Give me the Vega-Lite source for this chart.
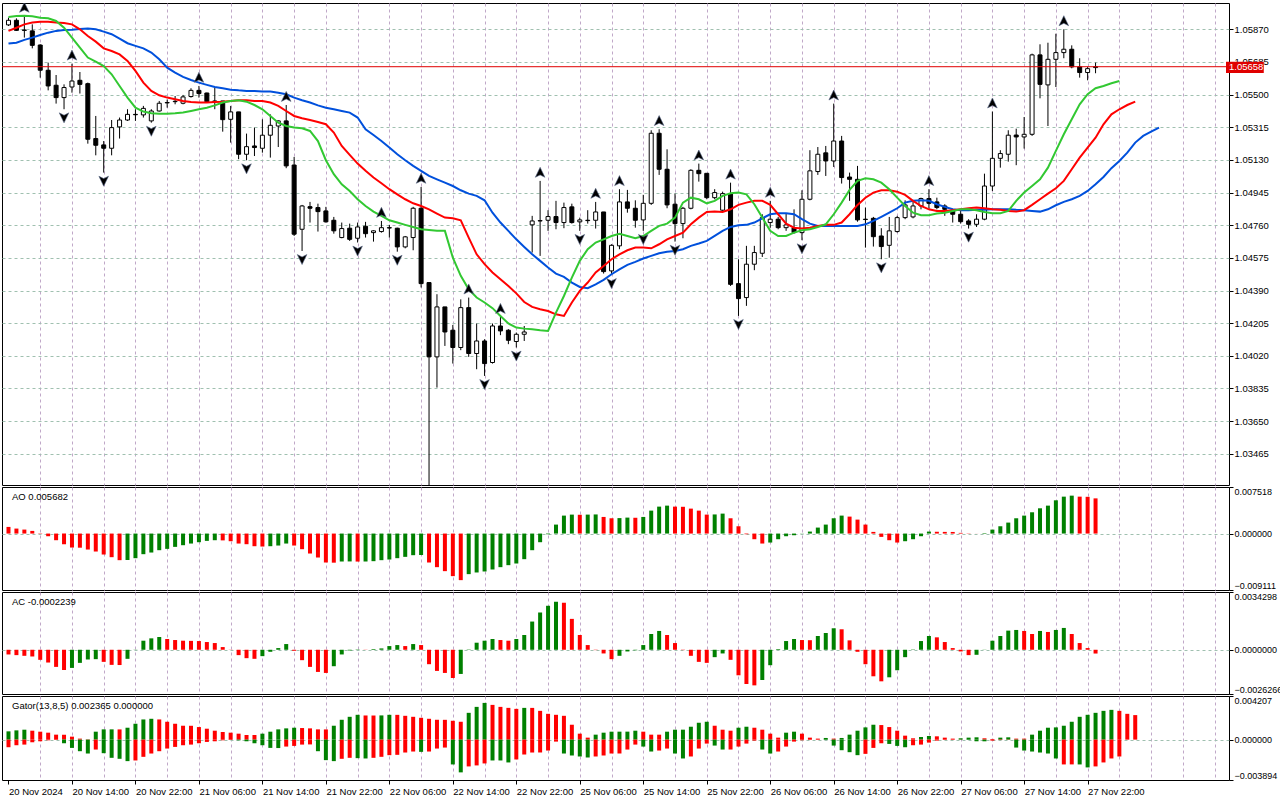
{
"$schema":"https://vega.github.io/schema/vega-lite/v6.json",
"padding":{"left":1,"top":2,"right":0,"bottom":0},
"background":"#ffffff",
"spacing":2,
"bounds":"flush",
"config":{
 "view":{"stroke":"#000000","strokeWidth":1},
 "font":"Liberation Sans",
 "axis":{"labelFont":"Liberation Sans","labelFontSize":9.5,"labelColor":"#000000","tickColor":"#000000","tickSize":4,"domain":false,"labelOverlap":false},
 "axisX":{"gridColor":"#c0a8c8","gridDash":[3,3],"gridWidth":1},
 "axisY":{"gridColor":"#a0c0b0","gridDash":[3,3],"gridWidth":1}
},
"datasets":{
"candles":[
{"i":0,"o":1.05895,"h":1.05936,"l":1.05889,"c":1.05921},
{"i":1,"o":1.05921,"h":1.05932,"l":1.05861,"c":1.05864},
{"i":2,"o":1.05866,"h":1.05946,"l":1.05823,"c":1.05864,"fr":"u"},
{"i":3,"o":1.05861,"h":1.05898,"l":1.05762,"c":1.05779},
{"i":4,"o":1.05781,"h":1.05785,"l":1.05596,"c":1.05638},
{"i":5,"o":1.05638,"h":1.05681,"l":1.05524,"c":1.05549},
{"i":6,"o":1.05553,"h":1.05611,"l":1.05449,"c":1.05483},
{"i":7,"o":1.05483,"h":1.05558,"l":1.05417,"c":1.0554,"fr":"d"},
{"i":8,"o":1.05543,"h":1.05675,"l":1.05511,"c":1.05577,"fr":"u"},
{"i":9,"o":1.05581,"h":1.05628,"l":1.05506,"c":1.05558},
{"i":10,"o":1.05562,"h":1.05568,"l":1.05222,"c":1.05247},
{"i":11,"o":1.05251,"h":1.05379,"l":1.05156,"c":1.05213},
{"i":12,"o":1.05215,"h":1.05237,"l":1.05058,"c":1.05196,"fr":"d"},
{"i":13,"o":1.05196,"h":1.05356,"l":1.05156,"c":1.05313},
{"i":14,"o":1.05317,"h":1.0537,"l":1.05251,"c":1.05356},
{"i":15,"o":1.05356,"h":1.05417,"l":1.05351,"c":1.05388},
{"i":16,"o":1.05388,"h":1.05417,"l":1.05351,"c":1.05386},
{"i":17,"o":1.05385,"h":1.05436,"l":1.0537,"c":1.05422},
{"i":18,"o":1.05351,"h":1.05417,"l":1.05341,"c":1.05407,"fr":"d"},
{"i":19,"o":1.05407,"h":1.05464,"l":1.05404,"c":1.05451},
{"i":20,"o":1.05455,"h":1.05472,"l":1.05426,"c":1.05453},
{"i":21,"o":1.0546,"h":1.05492,"l":1.05445,"c":1.05462},
{"i":22,"o":1.05451,"h":1.05498,"l":1.05445,"c":1.05487},
{"i":23,"o":1.05489,"h":1.05536,"l":1.05483,"c":1.05524},
{"i":24,"o":1.05524,"h":1.05549,"l":1.05483,"c":1.05506,"fr":"u"},
{"i":25,"o":1.05509,"h":1.05511,"l":1.05455,"c":1.0546},
{"i":26,"o":1.05464,"h":1.0554,"l":1.05417,"c":1.0546},
{"i":27,"o":1.05464,"h":1.05464,"l":1.0529,"c":1.05358},
{"i":28,"o":1.0536,"h":1.05436,"l":1.05228,"c":1.05402},
{"i":29,"o":1.05402,"h":1.05402,"l":1.05134,"c":1.05162},
{"i":30,"o":1.05162,"h":1.05279,"l":1.05128,"c":1.05205,"fr":"d"},
{"i":31,"o":1.05209,"h":1.05313,"l":1.05152,"c":1.052},
{"i":32,"o":1.05196,"h":1.0536,"l":1.05171,"c":1.0527},
{"i":33,"o":1.0527,"h":1.05388,"l":1.05143,"c":1.05326},
{"i":34,"o":1.05322,"h":1.05354,"l":1.05203,"c":1.05351},
{"i":35,"o":1.05351,"h":1.05441,"l":1.05083,"c":1.05096,"fr":"u"},
{"i":36,"o":1.05101,"h":1.05147,"l":1.04699,"c":1.04709},
{"i":37,"o":1.04737,"h":1.04875,"l":1.04614,"c":1.04869,"fr":"d"},
{"i":38,"o":1.04865,"h":1.04892,"l":1.04775,"c":1.04856},
{"i":39,"o":1.0486,"h":1.04882,"l":1.04724,"c":1.04837},
{"i":40,"o":1.04841,"h":1.04864,"l":1.04775,"c":1.04779},
{"i":41,"o":1.04788,"h":1.04807,"l":1.04712,"c":1.04728},
{"i":42,"o":1.0469,"h":1.04775,"l":1.04686,"c":1.04741},
{"i":43,"o":1.04743,"h":1.04769,"l":1.04671,"c":1.0468},
{"i":44,"o":1.04686,"h":1.04775,"l":1.04662,"c":1.0475,"fr":"d"},
{"i":45,"o":1.04754,"h":1.04779,"l":1.0469,"c":1.04712},
{"i":46,"o":1.04718,"h":1.04731,"l":1.04667,"c":1.04728},
{"i":47,"o":1.04724,"h":1.04784,"l":1.04718,"c":1.04746,"fr":"u"},
{"i":48,"o":1.04746,"h":1.04762,"l":1.0469,"c":1.04744},
{"i":49,"o":1.04743,"h":1.04746,"l":1.0461,"c":1.04637,"fr":"d"},
{"i":50,"o":1.04637,"h":1.04699,"l":1.04629,"c":1.04694},
{"i":51,"o":1.0469,"h":1.04864,"l":1.04618,"c":1.04856},
{"i":52,"o":1.04856,"h":1.04977,"l":1.04407,"c":1.04429,"fr":"u"},
{"i":53,"o":1.04435,"h":1.04435,"l":1.03275,"c":1.04014,"fr":"d"},
{"i":54,"o":1.04014,"h":1.04369,"l":1.0384,"c":1.04297},
{"i":55,"o":1.04297,"h":1.04297,"l":1.04076,"c":1.04155},
{"i":56,"o":1.04165,"h":1.04195,"l":1.03976,"c":1.04067},
{"i":57,"o":1.04067,"h":1.0434,"l":1.04052,"c":1.04293},
{"i":58,"o":1.04293,"h":1.0435,"l":1.04014,"c":1.04033,"fr":"u"},
{"i":59,"o":1.04033,"h":1.04203,"l":1.03944,"c":1.04104},
{"i":60,"o":1.04104,"h":1.04114,"l":1.03906,"c":1.03976,"fr":"d"},
{"i":61,"o":1.03982,"h":1.04203,"l":1.03976,"c":1.04189},
{"i":62,"o":1.04189,"h":1.0424,"l":1.04137,"c":1.04161,"fr":"u"},
{"i":63,"o":1.04165,"h":1.04171,"l":1.04086,"c":1.04108},
{"i":64,"o":1.04101,"h":1.04152,"l":1.04067,"c":1.04142,"fr":"d"},
{"i":65,"o":1.04142,"h":1.04189,"l":1.04104,"c":1.04155},
{"i":66,"o":1.04762,"h":1.04813,"l":1.04605,"c":1.04784},
{"i":67,"o":1.04784,"h":1.05011,"l":1.04586,"c":1.04786,"fr":"u"},
{"i":68,"o":1.04788,"h":1.04845,"l":1.04728,"c":1.04809},
{"i":69,"o":1.04809,"h":1.04898,"l":1.04737,"c":1.04775},
{"i":70,"o":1.04775,"h":1.04888,"l":1.04743,"c":1.0486},
{"i":71,"o":1.04864,"h":1.04882,"l":1.04769,"c":1.04775},
{"i":72,"o":1.04779,"h":1.04803,"l":1.04728,"c":1.0479,"fr":"d"},
{"i":73,"o":1.04788,"h":1.04845,"l":1.04769,"c":1.04786},
{"i":74,"o":1.04788,"h":1.04892,"l":1.04741,"c":1.04835,"fr":"u"},
{"i":75,"o":1.04835,"h":1.04835,"l":1.04486,"c":1.04497},
{"i":76,"o":1.04501,"h":1.04652,"l":1.04478,"c":1.04646,"fr":"d"},
{"i":77,"o":1.04643,"h":1.04964,"l":1.04624,"c":1.04892,"fr":"u"},
{"i":78,"o":1.04892,"h":1.0496,"l":1.04831,"c":1.04856},
{"i":79,"o":1.04856,"h":1.04901,"l":1.04746,"c":1.04788},
{"i":80,"o":1.0479,"h":1.04932,"l":1.04728,"c":1.04884,"fr":"d"},
{"i":81,"o":1.04884,"h":1.05298,"l":1.04875,"c":1.05281},
{"i":82,"o":1.05281,"h":1.05304,"l":1.05045,"c":1.05077,"fr":"u"},
{"i":83,"o":1.05077,"h":1.0519,"l":1.04856,"c":1.04875},
{"i":84,"o":1.04879,"h":1.04939,"l":1.04667,"c":1.04769,"fr":"d"},
{"i":85,"o":1.04769,"h":1.04864,"l":1.04686,"c":1.04856},
{"i":86,"o":1.04856,"h":1.05077,"l":1.0485,"c":1.05071},
{"i":87,"o":1.05071,"h":1.05109,"l":1.05007,"c":1.05052,"fr":"u"},
{"i":88,"o":1.05054,"h":1.05054,"l":1.04907,"c":1.04916},
{"i":89,"o":1.04916,"h":1.04964,"l":1.04907,"c":1.04945},
{"i":90,"o":1.04845,"h":1.0495,"l":1.04837,"c":1.04939},
{"i":91,"o":1.04939,"h":1.05001,"l":1.04416,"c":1.04425,"fr":"u"},
{"i":92,"o":1.04429,"h":1.04567,"l":1.04246,"c":1.04344,"fr":"d"},
{"i":93,"o":1.0435,"h":1.04643,"l":1.04303,"c":1.04539},
{"i":94,"o":1.04539,"h":1.04643,"l":1.04505,"c":1.04605},
{"i":95,"o":1.04601,"h":1.04822,"l":1.0458,"c":1.04803},
{"i":96,"o":1.04775,"h":1.04898,"l":1.04746,"c":1.04794,"fr":"u"},
{"i":97,"o":1.04794,"h":1.04807,"l":1.04737,"c":1.04746},
{"i":98,"o":1.04746,"h":1.04826,"l":1.04728,"c":1.04762},
{"i":99,"o":1.04746,"h":1.0485,"l":1.04712,"c":1.04718},
{"i":100,"o":1.04718,"h":1.04958,"l":1.04675,"c":1.04907,"fr":"d"},
{"i":101,"o":1.04907,"h":1.05185,"l":1.04901,"c":1.05068},
{"i":102,"o":1.05064,"h":1.05203,"l":1.05045,"c":1.05162},
{"i":103,"o":1.0517,"h":1.05209,"l":1.05039,"c":1.05124},
{"i":104,"o":1.05124,"h":1.05449,"l":1.0509,"c":1.05237,"fr":"u"},
{"i":105,"o":1.05237,"h":1.05266,"l":1.04996,"c":1.0503},
{"i":106,"o":1.05033,"h":1.05058,"l":1.04898,"c":1.0502},
{"i":107,"o":1.0502,"h":1.05096,"l":1.0478,"c":1.0479},
{"i":108,"o":1.04794,"h":1.0486,"l":1.04633,"c":1.04792},
{"i":109,"o":1.04799,"h":1.04807,"l":1.04639,"c":1.04695},
{"i":110,"o":1.04699,"h":1.04743,"l":1.04567,"c":1.04639,"fr":"d"},
{"i":111,"o":1.04646,"h":1.04807,"l":1.04576,"c":1.04728},
{"i":112,"o":1.04724,"h":1.04813,"l":1.04718,"c":1.04803},
{"i":113,"o":1.04803,"h":1.04901,"l":1.04794,"c":1.04875},
{"i":114,"o":1.04807,"h":1.04898,"l":1.04799,"c":1.04869},
{"i":115,"o":1.04869,"h":1.04916,"l":1.0485,"c":1.04911},
{"i":116,"o":1.04911,"h":1.04964,"l":1.04856,"c":1.04884,"fr":"u"},
{"i":117,"o":1.04892,"h":1.04916,"l":1.0485,"c":1.0486},
{"i":118,"o":1.04869,"h":1.04879,"l":1.04813,"c":1.0485},
{"i":119,"o":1.04841,"h":1.0485,"l":1.04775,"c":1.04822},
{"i":120,"o":1.04822,"h":1.04845,"l":1.04769,"c":1.0478},
{"i":121,"o":1.04784,"h":1.04794,"l":1.04741,"c":1.04765,"fr":"d"},
{"i":122,"o":1.04765,"h":1.04822,"l":1.0475,"c":1.04794},
{"i":123,"o":1.04794,"h":1.05052,"l":1.04788,"c":1.04982},
{"i":124,"o":1.04982,"h":1.05404,"l":1.04954,"c":1.05139,"fr":"u"},
{"i":125,"o":1.05139,"h":1.05185,"l":1.05086,"c":1.05166},
{"i":126,"o":1.05162,"h":1.05298,"l":1.0512,"c":1.0527},
{"i":127,"o":1.05271,"h":1.05307,"l":1.051,"c":1.0526},
{"i":128,"o":1.0526,"h":1.05373,"l":1.05194,"c":1.05275},
{"i":129,"o":1.05275,"h":1.05732,"l":1.05266,"c":1.05725},
{"i":130,"o":1.05725,"h":1.05785,"l":1.05479,"c":1.05558},
{"i":131,"o":1.05555,"h":1.05794,"l":1.05322,"c":1.057},
{"i":132,"o":1.057,"h":1.05845,"l":1.05543,"c":1.05738},
{"i":133,"o":1.05738,"h":1.0587,"l":1.05706,"c":1.05757,"fr":"u"},
{"i":134,"o":1.05757,"h":1.05779,"l":1.05649,"c":1.05657},
{"i":135,"o":1.05657,"h":1.05706,"l":1.05596,"c":1.05625},
{"i":136,"o":1.05625,"h":1.05657,"l":1.05581,"c":1.05647},
{"i":137,"o":1.05653,"h":1.05681,"l":1.05621,"c":1.05658}
],
"alligator":[
{"i":0,"j":1.05789,"t":1.05861,"l":1.0594},{"i":1,"j":1.05794,"t":1.05879,"l":1.05946},{"i":2,"j":1.0581,"t":1.05898,"l":1.05947},{"i":3,"j":1.05823,"t":1.05908,"l":1.05944},{"i":4,"j":1.05838,"t":1.05913,"l":1.05936},{"i":5,"j":1.05851,"t":1.05913,"l":1.05932},{"i":6,"j":1.05861,"t":1.05908,"l":1.05917},{"i":7,"j":1.05866,"t":1.05906,"l":1.05879},{"i":8,"j":1.05868,"t":1.05898,"l":1.05823},{"i":9,"j":1.05872,"t":1.0587,"l":1.05766},
{"i":10,"j":1.05874,"t":1.05832,"l":1.0571},{"i":11,"j":1.0587,"t":1.058,"l":1.05687},{"i":12,"j":1.05857,"t":1.05762,"l":1.05662},{"i":13,"j":1.05842,"t":1.05747,"l":1.05615},{"i":14,"j":1.05817,"t":1.05728,"l":1.05549},{"i":15,"j":1.05791,"t":1.05691,"l":1.05483},{"i":16,"j":1.05776,"t":1.05634,"l":1.05426},{"i":17,"j":1.05762,"t":1.05568,"l":1.05404},{"i":18,"j":1.05738,"t":1.05521,"l":1.05394},{"i":19,"j":1.057,"t":1.05496,"l":1.05392},
{"i":20,"j":1.05653,"t":1.05483,"l":1.05392},{"i":21,"j":1.05625,"t":1.05474,"l":1.05394},{"i":22,"j":1.056,"t":1.05464,"l":1.05398},{"i":23,"j":1.05583,"t":1.05458,"l":1.05407},{"i":24,"j":1.05568,"t":1.05455,"l":1.05417},{"i":25,"j":1.05555,"t":1.05455,"l":1.05426},{"i":26,"j":1.05543,"t":1.05458,"l":1.05439},{"i":27,"j":1.05536,"t":1.0546,"l":1.05455},{"i":28,"j":1.05528,"t":1.05464,"l":1.05464},{"i":29,"j":1.05524,"t":1.05468,"l":1.05468},
{"i":30,"j":1.05521,"t":1.05468,"l":1.0546},{"i":31,"j":1.05521,"t":1.05464,"l":1.05441},{"i":32,"j":1.05517,"t":1.05464,"l":1.05417},{"i":33,"j":1.05517,"t":1.05455,"l":1.05379},{"i":34,"j":1.05511,"t":1.05436,"l":1.05341},{"i":35,"j":1.05502,"t":1.05407,"l":1.05322},{"i":36,"j":1.05483,"t":1.05379,"l":1.05313},{"i":37,"j":1.05468,"t":1.05366,"l":1.05309},{"i":38,"j":1.05455,"t":1.05356,"l":1.05294},{"i":39,"j":1.05439,"t":1.05345,"l":1.05237},
{"i":40,"j":1.05426,"t":1.05332,"l":1.05128},{"i":41,"j":1.05417,"t":1.05285,"l":1.05049},{"i":42,"j":1.05407,"t":1.05209,"l":1.04992},{"i":43,"j":1.05398,"t":1.05158,"l":1.04954},{"i":44,"j":1.0537,"t":1.05109,"l":1.04907},{"i":45,"j":1.05304,"t":1.05068,"l":1.04869},{"i":46,"j":1.05271,"t":1.0503,"l":1.04837},{"i":47,"j":1.05237,"t":1.04998,"l":1.04813},{"i":48,"j":1.052,"t":1.04964,"l":1.04788},{"i":49,"j":1.05162,"t":1.04935,"l":1.04775},
{"i":50,"j":1.05128,"t":1.04907,"l":1.04762},{"i":51,"j":1.05096,"t":1.04884,"l":1.0475},{"i":52,"j":1.05068,"t":1.04869,"l":1.04737},{"i":53,"j":1.05039,"t":1.0485,"l":1.04733},{"i":54,"j":1.0502,"t":1.04826,"l":1.04728},{"i":55,"j":1.05001,"t":1.04803,"l":1.04728},{"i":56,"j":1.04982,"t":1.04799,"l":1.04576},{"i":57,"j":1.04958,"t":1.04788,"l":1.04473},{"i":58,"j":1.04939,"t":1.0469,"l":1.04397},{"i":59,"j":1.04926,"t":1.04595,"l":1.0435},
{"i":60,"j":1.04901,"t":1.04539,"l":1.04322},{"i":61,"j":1.04831,"t":1.04492,"l":1.0429},{"i":62,"j":1.04775,"t":1.04454,"l":1.04246},{"i":63,"j":1.04728,"t":1.04416,"l":1.04203},{"i":64,"j":1.0468,"t":1.04374,"l":1.0418},{"i":65,"j":1.04637,"t":1.04325,"l":1.04174},{"i":66,"j":1.04595,"t":1.04297,"l":1.04171},{"i":67,"j":1.04558,"t":1.04284,"l":1.04165},{"i":68,"j":1.0452,"t":1.04274,"l":1.04161},{"i":69,"j":1.04486,"t":1.04255,"l":1.04265},
{"i":70,"j":1.04467,"t":1.04246,"l":1.04359},{"i":71,"j":1.04435,"t":1.04322,"l":1.04463},{"i":72,"j":1.0441,"t":1.04388,"l":1.04558},{"i":73,"j":1.04403,"t":1.04435,"l":1.04624},{"i":74,"j":1.04425,"t":1.04492,"l":1.04662},{"i":75,"j":1.0445,"t":1.04529,"l":1.0468},{"i":76,"j":1.04482,"t":1.04567,"l":1.04699},{"i":77,"j":1.0451,"t":1.04595,"l":1.04712},{"i":78,"j":1.04535,"t":1.04618,"l":1.04699},{"i":79,"j":1.04552,"t":1.04633,"l":1.04686},
{"i":80,"j":1.04571,"t":1.04633,"l":1.04699},{"i":81,"j":1.04586,"t":1.04629,"l":1.04728},{"i":82,"j":1.04601,"t":1.04652,"l":1.04756},{"i":83,"j":1.04609,"t":1.0468,"l":1.04769},{"i":84,"j":1.04614,"t":1.04699,"l":1.04803},{"i":85,"j":1.04624,"t":1.04718,"l":1.04888},{"i":86,"j":1.04643,"t":1.04765,"l":1.04916},{"i":87,"j":1.04656,"t":1.04803,"l":1.04907},{"i":88,"j":1.04671,"t":1.04835,"l":1.04884},{"i":89,"j":1.04699,"t":1.04837,"l":1.04898},
{"i":90,"j":1.04728,"t":1.04835,"l":1.04926},{"i":91,"j":1.0475,"t":1.0485,"l":1.04941},{"i":92,"j":1.0476,"t":1.04875,"l":1.04945},{"i":93,"j":1.04762,"t":1.04888,"l":1.04935},{"i":94,"j":1.04775,"t":1.04898,"l":1.04879},{"i":95,"j":1.04799,"t":1.04898,"l":1.04803},{"i":96,"j":1.04822,"t":1.04875,"l":1.04728},{"i":97,"j":1.04828,"t":1.04822,"l":1.04699},{"i":98,"j":1.04828,"t":1.04769,"l":1.04699},{"i":99,"j":1.04822,"t":1.04746,"l":1.04718},
{"i":100,"j":1.04794,"t":1.04741,"l":1.04731},{"i":101,"j":1.04769,"t":1.04746,"l":1.04737},{"i":102,"j":1.04756,"t":1.04756,"l":1.0475},{"i":103,"j":1.04756,"t":1.04762,"l":1.04765},{"i":104,"j":1.04756,"t":1.04762,"l":1.04822},{"i":105,"j":1.04756,"t":1.04775,"l":1.04888},{"i":106,"j":1.04756,"t":1.04822,"l":1.0496},{"i":107,"j":1.04756,"t":1.04875,"l":1.05011},{"i":108,"j":1.04765,"t":1.04916,"l":1.05026},{"i":109,"j":1.04784,"t":1.04945,"l":1.0502},
{"i":110,"j":1.04807,"t":1.04958,"l":1.05001},{"i":111,"j":1.04831,"t":1.04958,"l":1.04964},{"i":112,"j":1.04856,"t":1.0495,"l":1.04916},{"i":113,"j":1.04888,"t":1.04932,"l":1.04869},{"i":114,"j":1.04898,"t":1.04898,"l":1.04831},{"i":115,"j":1.04901,"t":1.04869,"l":1.04816},{"i":116,"j":1.04898,"t":1.0485,"l":1.04816},{"i":117,"j":1.04879,"t":1.04841,"l":1.04826},{"i":118,"j":1.04864,"t":1.04841,"l":1.04831},{"i":119,"j":1.0485,"t":1.04845,"l":1.04841},
{"i":120,"j":1.04845,"t":1.0485,"l":1.0485},{"i":121,"j":1.04845,"t":1.04856,"l":1.0485},{"i":122,"j":1.04847,"t":1.0486,"l":1.04845},{"i":123,"j":1.04848,"t":1.04856,"l":1.04835},{"i":124,"j":1.0485,"t":1.0485,"l":1.04828},{"i":125,"j":1.0485,"t":1.04847,"l":1.04828},{"i":126,"j":1.0485,"t":1.04841,"l":1.04841},{"i":127,"j":1.04847,"t":1.04837,"l":1.04898},{"i":128,"j":1.04845,"t":1.04845,"l":1.04945},{"i":129,"j":1.04841,"t":1.04875,"l":1.04982},
{"i":130,"j":1.04837,"t":1.04907,"l":1.0502},{"i":131,"j":1.0485,"t":1.04939,"l":1.05086},{"i":132,"j":1.04873,"t":1.04969,"l":1.05181},{"i":133,"j":1.04892,"t":1.05011,"l":1.05275},{"i":134,"j":1.04907,"t":1.05077,"l":1.0536},{"i":135,"j":1.04926,"t":1.05143,"l":1.05445},{"i":136,"j":1.04954,"t":1.052,"l":1.05502},{"i":137,"j":1.04992,"t":1.05256,"l":1.05536},{"i":138,"j":1.05033,"t":1.05332,"l":1.05549},{"i":139,"j":1.05083,"t":1.05388,"l":1.05564},
{"i":140,"j":1.05124,"t":1.05417,"l":1.05577},{"i":141,"j":1.05171,"t":1.05441},{"i":142,"j":1.05228,"t":1.0546},{"i":143,"j":1.05266},{"i":144,"j":1.0529},{"i":145,"j":1.05313}
],
"ao":[
{"i":0,"v":0.001074,"k":"r"},{"i":1,"v":0.000806,"k":"r"},{"i":2,"v":0.000644,"k":"r"},{"i":3,"v":0.00043,"k":"r"},{"i":4,"v":-0.000054,"k":"r"},{"i":5,"v":-0.00043,"k":"r"},{"i":6,"v":-0.001074,"k":"r"},{"i":7,"v":-0.001718,"k":"r"},{"i":8,"v":-0.002255,"k":"r"},{"i":9,"v":-0.002282,"k":"r"},
{"i":10,"v":-0.002578,"k":"r"},{"i":11,"v":-0.0029,"k":"r"},{"i":12,"v":-0.003383,"k":"r"},{"i":13,"v":-0.003813,"k":"r"},{"i":14,"v":-0.004296,"k":"r"},{"i":15,"v":-0.004269,"k":"g"},{"i":16,"v":-0.003974,"k":"g"},{"i":17,"v":-0.003329,"k":"g"},{"i":18,"v":-0.003061,"k":"g"},{"i":19,"v":-0.002685,"k":"g"},
{"i":20,"v":-0.00247,"k":"g"},{"i":21,"v":-0.002148,"k":"g"},{"i":22,"v":-0.00188,"k":"g"},{"i":23,"v":-0.001611,"k":"g"},{"i":24,"v":-0.001396,"k":"g"},{"i":25,"v":-0.001181,"k":"g"},{"i":26,"v":-0.001074,"k":"g"},{"i":27,"v":-0.001101,"k":"r"},{"i":28,"v":-0.001235,"k":"r"},{"i":29,"v":-0.001611,"k":"r"},
{"i":30,"v":-0.001718,"k":"r"},{"i":31,"v":-0.002041,"k":"r"},{"i":32,"v":-0.002094,"k":"r"},{"i":33,"v":-0.002041,"k":"g"},{"i":34,"v":-0.001933,"k":"g"},{"i":35,"v":-0.001611,"k":"g"},{"i":36,"v":-0.001933,"k":"r"},{"i":37,"v":-0.002524,"k":"r"},{"i":38,"v":-0.003222,"k":"r"},{"i":39,"v":-0.003866,"k":"r"},
{"i":40,"v":-0.004672,"k":"r"},{"i":41,"v":-0.004699,"k":"r"},{"i":42,"v":-0.004511,"k":"g"},{"i":43,"v":-0.0045,"k":"g"},{"i":44,"v":-0.004522,"k":"r"},{"i":45,"v":-0.004511,"k":"g"},{"i":46,"v":-0.004457,"k":"g"},{"i":47,"v":-0.004296,"k":"g"},{"i":48,"v":-0.004189,"k":"g"},{"i":49,"v":-0.003974,"k":"g"},
{"i":50,"v":-0.003759,"k":"g"},{"i":51,"v":-0.003491,"k":"g"},{"i":52,"v":-0.003464,"k":"g"},{"i":53,"v":-0.004672,"k":"r"},{"i":54,"v":-0.005424,"k":"r"},{"i":55,"v":-0.006068,"k":"r"},{"i":56,"v":-0.006874,"k":"r"},{"i":57,"v":-0.007518,"k":"r"},{"i":58,"v":-0.006551,"k":"g"},{"i":59,"v":-0.006283,"k":"g"},
{"i":60,"v":-0.006122,"k":"g"},{"i":61,"v":-0.0058,"k":"g"},{"i":62,"v":-0.005424,"k":"g"},{"i":63,"v":-0.005102,"k":"g"},{"i":64,"v":-0.004833,"k":"g"},{"i":65,"v":-0.004135,"k":"g"},{"i":66,"v":-0.002685,"k":"g"},{"i":67,"v":-0.001396,"k":"g"},{"i":68,"v":-0.000107,"k":"g"},{"i":69,"v":0.00145,"k":"g"},
{"i":70,"v":0.0029,"k":"g"},{"i":71,"v":0.003061,"k":"g"},{"i":72,"v":0.003034,"k":"r"},{"i":73,"v":0.003061,"k":"g"},{"i":74,"v":0.003088,"k":"g"},{"i":75,"v":0.002685,"k":"r"},{"i":76,"v":0.00247,"k":"r"},{"i":77,"v":0.002497,"k":"g"},{"i":78,"v":0.002578,"k":"g"},{"i":79,"v":0.002551,"k":"r"},
{"i":80,"v":0.002685,"k":"g"},{"i":81,"v":0.003705,"k":"g"},{"i":82,"v":0.00435,"k":"g"},{"i":83,"v":0.004511,"k":"g"},{"i":84,"v":0.00435,"k":"r"},{"i":85,"v":0.004323,"k":"r"},{"i":86,"v":0.004028,"k":"r"},{"i":87,"v":0.003705,"k":"r"},{"i":88,"v":0.003061,"k":"r"},{"i":89,"v":0.003088,"k":"g"},
{"i":90,"v":0.003222,"k":"g"},{"i":91,"v":0.00247,"k":"r"},{"i":92,"v":0.001181,"k":"r"},{"i":93,"v":-0.000107,"k":"r"},{"i":94,"v":-0.000913,"k":"r"},{"i":95,"v":-0.001611,"k":"r"},{"i":96,"v":-0.00145,"k":"g"},{"i":97,"v":-0.000913,"k":"g"},{"i":98,"v":-0.00043,"k":"g"},{"i":99,"v":-0.000269,"k":"g"},
{"i":100,"v":-0.000027,"k":"g"},{"i":101,"v":0.000322,"k":"g"},{"i":102,"v":0.000967,"k":"g"},{"i":103,"v":0.00145,"k":"g"},{"i":104,"v":0.00247,"k":"g"},{"i":105,"v":0.0029,"k":"g"},{"i":106,"v":0.002739,"k":"r"},{"i":107,"v":0.002255,"k":"r"},{"i":108,"v":0.00145,"k":"r"},{"i":109,"v":0.000269,"k":"r"},
{"i":110,"v":-0.000537,"k":"r"},{"i":111,"v":-0.001074,"k":"r"},{"i":112,"v":-0.00145,"k":"r"},{"i":113,"v":-0.001235,"k":"g"},{"i":114,"v":-0.000913,"k":"g"},{"i":115,"v":-0.00043,"k":"g"},{"i":116,"v":0.00032,"k":"g"},{"i":117,"v":0.00029,"k":"r"},{"i":118,"v":0.00027,"k":"r"},{"i":119,"v":0.00026,"k":"r"},
{"i":120,"v":0.00011,"k":"r"},{"i":121,"v":0.00004,"k":"r"},{"i":122,"v":0.00001,"k":"r"},{"i":123,"v":0.00008,"k":"g"},{"i":124,"v":0.00064,"k":"g"},{"i":125,"v":0.001181,"k":"g"},{"i":126,"v":0.001772,"k":"g"},{"i":127,"v":0.00247,"k":"g"},{"i":128,"v":0.0029,"k":"g"},{"i":129,"v":0.003437,"k":"g"},
{"i":130,"v":0.004081,"k":"g"},{"i":131,"v":0.004511,"k":"g"},{"i":132,"v":0.00537,"k":"g"},{"i":133,"v":0.005961,"k":"g"},{"i":134,"v":0.006122,"k":"g"},{"i":135,"v":0.005961,"k":"r"},{"i":136,"v":0.005934,"k":"r"},{"i":137,"v":0.005682,"k":"r"}
],
"ac":[
{"i":0,"v":-0.000279,"k":"r"},{"i":1,"v":-0.000319,"k":"r"},{"i":2,"v":-0.000359,"k":"r"},{"i":3,"v":-0.000399,"k":"r"},{"i":4,"v":-0.000598,"k":"r"},{"i":5,"v":-0.000758,"k":"r"},{"i":6,"v":-0.001017,"k":"r"},{"i":7,"v":-0.001196,"k":"r"},{"i":8,"v":-0.001077,"k":"g"},{"i":9,"v":-0.000778,"k":"g"},
{"i":10,"v":-0.000578,"k":"g"},{"i":11,"v":-0.000558,"k":"g"},{"i":12,"v":-0.000718,"k":"r"},{"i":13,"v":-0.000897,"k":"r"},{"i":14,"v":-0.000907,"k":"r"},{"i":15,"v":-0.000538,"k":"g"},{"i":16,"v":0.00001,"k":"g"},{"i":17,"v":0.000538,"k":"g"},{"i":18,"v":0.000678,"k":"g"},{"i":19,"v":0.000758,"k":"g"},
{"i":20,"v":0.000638,"k":"r"},{"i":21,"v":0.000578,"k":"r"},{"i":22,"v":0.000538,"k":"r"},{"i":23,"v":0.000528,"k":"r"},{"i":24,"v":0.000518,"k":"r"},{"i":25,"v":0.000459,"k":"r"},{"i":26,"v":0.000399,"k":"r"},{"i":27,"v":0.00016,"k":"r"},{"i":28,"v":-0.00001,"k":"r"},{"i":29,"v":-0.000319,"k":"r"},
{"i":30,"v":-0.000499,"k":"r"},{"i":31,"v":-0.000538,"k":"r"},{"i":32,"v":-0.000379,"k":"g"},{"i":33,"v":-0.00012,"k":"g"},{"i":34,"v":0.0001,"k":"g"},{"i":35,"v":0.000339,"k":"g"},{"i":36,"v":-0.00006,"k":"r"},{"i":37,"v":-0.000618,"k":"r"},{"i":38,"v":-0.001017,"k":"r"},{"i":39,"v":-0.001316,"k":"r"},
{"i":40,"v":-0.001376,"k":"r"},{"i":41,"v":-0.000977,"k":"g"},{"i":42,"v":-0.000279,"k":"g"},{"i":43,"v":-0.00004,"k":"g"},{"i":44,"v":0.00002,"k":"g"},{"i":45,"v":0.00001,"k":"r"},{"i":46,"v":0.00004,"k":"g"},{"i":47,"v":0.00008,"k":"g"},{"i":48,"v":0.000219,"k":"g"},{"i":49,"v":0.000279,"k":"g"},
{"i":50,"v":0.000219,"k":"r"},{"i":51,"v":0.000339,"k":"g"},{"i":52,"v":0.000279,"k":"r"},{"i":53,"v":-0.000857,"k":"r"},{"i":54,"v":-0.001256,"k":"r"},{"i":55,"v":-0.001376,"k":"r"},{"i":56,"v":-0.001675,"k":"r"},{"i":57,"v":-0.001436,"k":"g"},{"i":58,"v":0.00002,"k":"g"},{"i":59,"v":0.000419,"k":"g"},
{"i":60,"v":0.000538,"k":"g"},{"i":61,"v":0.000638,"k":"g"},{"i":62,"v":0.000578,"k":"r"},{"i":63,"v":0.000538,"k":"r"},{"i":64,"v":0.000638,"k":"g"},{"i":65,"v":0.000877,"k":"g"},{"i":66,"v":0.001675,"k":"g"},{"i":67,"v":0.002213,"k":"g"},{"i":68,"v":0.002612,"k":"g"},{"i":69,"v":0.002851,"k":"g"},
{"i":70,"v":0.002792,"k":"r"},{"i":71,"v":0.001834,"k":"r"},{"i":72,"v":0.000877,"k":"r"},{"i":73,"v":0.000279,"k":"r"},{"i":74,"v":-0.00002,"k":"r"},{"i":75,"v":-0.000219,"k":"r"},{"i":76,"v":-0.000558,"k":"r"},{"i":77,"v":-0.000359,"k":"g"},{"i":78,"v":-0.0001,"k":"g"},{"i":79,"v":-0.00003,"k":"g"},
{"i":80,"v":0.000279,"k":"g"},{"i":81,"v":0.000937,"k":"g"},{"i":82,"v":0.001117,"k":"g"},{"i":83,"v":0.000877,"k":"r"},{"i":84,"v":0.000399,"k":"r"},{"i":85,"v":-0.00002,"k":"r"},{"i":86,"v":-0.000359,"k":"r"},{"i":87,"v":-0.000718,"k":"r"},{"i":88,"v":-0.000778,"k":"r"},{"i":89,"v":-0.000439,"k":"g"},
{"i":90,"v":-0.000219,"k":"g"},{"i":91,"v":-0.000598,"k":"r"},{"i":92,"v":-0.001515,"k":"r"},{"i":93,"v":-0.002034,"k":"r"},{"i":94,"v":-0.002114,"k":"r"},{"i":95,"v":-0.001795,"k":"g"},{"i":96,"v":-0.000917,"k":"g"},{"i":97,"v":0.00004,"k":"g"},{"i":98,"v":0.000518,"k":"g"},{"i":99,"v":0.000638,"k":"g"},
{"i":100,"v":0.000578,"k":"r"},{"i":101,"v":0.000568,"k":"r"},{"i":102,"v":0.000818,"k":"g"},{"i":103,"v":0.000997,"k":"g"},{"i":104,"v":0.001276,"k":"g"},{"i":105,"v":0.001216,"k":"r"},{"i":106,"v":0.000558,"k":"r"},{"i":107,"v":-0.00012,"k":"r"},{"i":108,"v":-0.000857,"k":"r"},{"i":109,"v":-0.001575,"k":"r"},
{"i":110,"v":-0.001874,"k":"r"},{"i":111,"v":-0.001635,"k":"g"},{"i":112,"v":-0.001216,"k":"g"},{"i":113,"v":-0.000439,"k":"g"},{"i":114,"v":0.00002,"k":"g"},{"i":115,"v":0.000518,"k":"g"},{"i":116,"v":0.000818,"k":"g"},{"i":117,"v":0.000738,"k":"r"},{"i":118,"v":0.000459,"k":"r"},{"i":119,"v":0.0001,"k":"r"},
{"i":120,"v":-0.0001,"k":"r"},{"i":121,"v":-0.000319,"k":"r"},{"i":122,"v":-0.000299,"k":"g"},{"i":123,"v":0.00001,"k":"g"},{"i":124,"v":0.000538,"k":"g"},{"i":125,"v":0.000818,"k":"g"},{"i":126,"v":0.001137,"k":"g"},{"i":127,"v":0.001176,"k":"g"},{"i":128,"v":0.001117,"k":"r"},{"i":129,"v":0.000937,"k":"r"},
{"i":130,"v":0.001117,"k":"g"},{"i":131,"v":0.001057,"k":"r"},{"i":132,"v":0.001176,"k":"g"},{"i":133,"v":0.001296,"k":"g"},{"i":134,"v":0.000937,"k":"r"},{"i":135,"v":0.000399,"k":"r"},{"i":136,"v":0.0001,"k":"r"},{"i":137,"v":-0.000224,"k":"r"}
],
"gator":[
{"i":0,"u":0.000798,"uk":"g","d":-0.000734,"dk":"r"},{"i":1,"u":0.000893,"uk":"g","d":-0.000542,"dk":"r"},{"i":2,"u":0.000957,"uk":"g","d":-0.000479,"dk":"r"},{"i":3,"u":0.000861,"uk":"r","d":-0.000255,"dk":"r"},{"i":4,"u":0.000766,"uk":"r","d":-0.00016,"dk":"r"},{"i":5,"u":0.00067,"uk":"r","d":-0.000064,"dk":"r"},{"i":6,"u":0.000479,"uk":"r","d":-0.000032,"dk":"r"},{"i":7,"u":0.000478,"uk":"r","d":-0.000351,"dk":"g"},{"i":8,"u":0.000287,"uk":"r","d":-0.000798,"dk":"g"},{"i":9,"u":0.000096,"uk":"r","d":-0.001117,"dk":"g"},
{"i":10,"u":0.000032,"uk":"r","d":-0.00134,"dk":"g"},{"i":11,"u":0.000766,"uk":"g","d":-0.000957,"dk":"r"},{"i":12,"u":0.000989,"uk":"g","d":-0.001308,"dk":"g"},{"i":13,"u":0.00099,"uk":"g","d":-0.001755,"dk":"g"},{"i":14,"u":0.000985,"uk":"r","d":-0.00185,"dk":"g"},{"i":15,"u":0.001148,"uk":"g","d":-0.002074,"dk":"g"},{"i":16,"u":0.001531,"uk":"g","d":-0.00201,"dk":"r"},{"i":17,"u":0.001946,"uk":"g","d":-0.001659,"dk":"r"},{"i":18,"u":0.00201,"uk":"g","d":-0.00134,"dk":"r"},{"i":19,"u":0.001946,"uk":"r","d":-0.001117,"dk":"r"},
{"i":20,"u":0.001723,"uk":"r","d":-0.000861,"dk":"r"},{"i":21,"u":0.001531,"uk":"r","d":-0.000702,"dk":"r"},{"i":22,"u":0.00134,"uk":"r","d":-0.000542,"dk":"r"},{"i":23,"u":0.001335,"uk":"r","d":-0.000479,"dk":"r"},{"i":24,"u":0.001212,"uk":"r","d":-0.000351,"dk":"r"},{"i":25,"u":0.001053,"uk":"r","d":-0.000223,"dk":"r"},{"i":26,"u":0.000861,"uk":"r","d":-0.00016,"dk":"r"},{"i":27,"u":0.000734,"uk":"r","d":-0.000064,"dk":"r"},{"i":28,"u":0.00067,"uk":"r","d":-0.000032,"dk":"r"},{"i":29,"u":0.000574,"uk":"r","d":-0.000064,"dk":"g"},
{"i":30,"u":0.000447,"uk":"r","d":-0.00016,"dk":"g"},{"i":31,"u":0.000445,"uk":"r","d":-0.000351,"dk":"g"},{"i":32,"u":0.000574,"uk":"g","d":-0.000542,"dk":"g"},{"i":33,"u":0.000766,"uk":"g","d":-0.000798,"dk":"g"},{"i":34,"u":0.000989,"uk":"g","d":-0.000813,"dk":"g"},{"i":35,"u":0.001085,"uk":"g","d":-0.00067,"dk":"r"},{"i":36,"u":0.001148,"uk":"g","d":-0.000606,"dk":"r"},{"i":37,"u":0.001117,"uk":"r","d":-0.000479,"dk":"r"},{"i":38,"u":0.001085,"uk":"r","d":-0.000463,"dk":"r"},{"i":39,"u":0.000989,"uk":"r","d":-0.001117,"dk":"g"},
{"i":40,"u":0.000985,"uk":"r","d":-0.001978,"dk":"g"},{"i":41,"u":0.00134,"uk":"g","d":-0.002074,"dk":"g"},{"i":42,"u":0.001914,"uk":"g","d":-0.00185,"dk":"r"},{"i":43,"u":0.002201,"uk":"g","d":-0.001755,"dk":"r"},{"i":44,"u":0.002393,"uk":"g","d":-0.001786,"dk":"g"},{"i":45,"u":0.002329,"uk":"r","d":-0.001818,"dk":"g"},{"i":46,"u":0.002325,"uk":"r","d":-0.001755,"dk":"r"},{"i":47,"u":0.002335,"uk":"g","d":-0.001659,"dk":"r"},{"i":48,"u":0.002393,"uk":"g","d":-0.001499,"dk":"r"},{"i":49,"u":0.00239,"uk":"r","d":-0.001467,"dk":"r"},
{"i":50,"u":0.002297,"uk":"r","d":-0.001244,"dk":"r"},{"i":51,"u":0.002201,"uk":"r","d":-0.001148,"dk":"r"},{"i":52,"u":0.002105,"uk":"r","d":-0.00118,"dk":"g"},{"i":53,"u":0.00201,"uk":"r","d":-0.001148,"dk":"r"},{"i":54,"u":0.001914,"uk":"r","d":-0.000861,"dk":"r"},{"i":55,"u":0.00191,"uk":"r","d":-0.000766,"dk":"r"},{"i":56,"u":0.001818,"uk":"r","d":-0.002393,"dk":"g"},{"i":57,"u":0.001723,"uk":"r","d":-0.003158,"dk":"g"},{"i":58,"u":0.002584,"uk":"g","d":-0.002584,"dk":"r"},{"i":59,"u":0.003158,"uk":"g","d":-0.002488,"dk":"r"},
{"i":60,"u":0.003541,"uk":"g","d":-0.002297,"dk":"r"},{"i":61,"u":0.00335,"uk":"r","d":-0.00201,"dk":"g"},{"i":62,"u":0.003158,"uk":"r","d":-0.00201,"dk":"g"},{"i":63,"u":0.003062,"uk":"r","d":-0.002201,"dk":"g"},{"i":64,"u":0.002967,"uk":"r","d":-0.001914,"dk":"r"},{"i":65,"u":0.003062,"uk":"g","d":-0.001436,"dk":"r"},{"i":66,"u":0.00306,"uk":"r","d":-0.001244,"dk":"r"},{"i":67,"u":0.002775,"uk":"r","d":-0.00124,"dk":"r"},{"i":68,"u":0.002488,"uk":"r","d":-0.001053,"dk":"r"},{"i":69,"u":0.002393,"uk":"r","d":-0.000191,"dk":"r"},
{"i":70,"u":0.002297,"uk":"r","d":-0.00134,"dk":"g"},{"i":71,"u":0.001436,"uk":"r","d":-0.001531,"dk":"g"},{"i":72,"u":0.000574,"uk":"r","d":-0.001627,"dk":"g"},{"i":73,"u":0.000191,"uk":"r","d":-0.001723,"dk":"g"},{"i":74,"u":0.000479,"uk":"g","d":-0.001627,"dk":"r"},{"i":75,"u":0.00067,"uk":"g","d":-0.001531,"dk":"r"},{"i":76,"u":0.000766,"uk":"g","d":-0.00134,"dk":"r"},{"i":77,"u":0.000768,"uk":"g","d":-0.001338,"dk":"r"},{"i":78,"u":0.00077,"uk":"g","d":-0.000957,"dk":"r"},{"i":79,"u":0.000861,"uk":"g","d":-0.000479,"dk":"r"},
{"i":80,"u":0.000766,"uk":"r","d":-0.00067,"dk":"g"},{"i":81,"u":0.000479,"uk":"r","d":-0.001148,"dk":"g"},{"i":82,"u":0.000477,"uk":"r","d":-0.001053,"dk":"r"},{"i":83,"u":0.000766,"uk":"g","d":-0.000861,"dk":"r"},{"i":84,"u":0.000957,"uk":"g","d":-0.00134,"dk":"g"},{"i":85,"u":0.00096,"uk":"g","d":-0.001818,"dk":"g"},{"i":86,"u":0.001244,"uk":"g","d":-0.001627,"dk":"r"},{"i":87,"u":0.001627,"uk":"g","d":-0.000861,"dk":"r"},{"i":88,"u":0.001723,"uk":"g","d":-0.000383,"dk":"r"},{"i":89,"u":0.00134,"uk":"r","d":-0.000574,"dk":"g"},
{"i":90,"u":0.000957,"uk":"r","d":-0.000957,"dk":"g"},{"i":91,"u":0.000861,"uk":"r","d":-0.000955,"dk":"r"},{"i":92,"u":0.001148,"uk":"g","d":-0.00067,"dk":"r"},{"i":93,"u":0.001244,"uk":"g","d":-0.000383,"dk":"r"},{"i":94,"u":0.001148,"uk":"r","d":-0.000096,"dk":"r"},{"i":95,"u":0.000957,"uk":"r","d":-0.000957,"dk":"g"},{"i":96,"u":0.000574,"uk":"r","d":-0.00134,"dk":"g"},{"i":97,"u":0.000191,"uk":"r","d":-0.001148,"dk":"r"},{"i":98,"u":0.00067,"uk":"g","d":-0.00067,"dk":"r"},{"i":99,"u":0.000766,"uk":"g","d":-0.000191,"dk":"r"},
{"i":100,"u":0.000574,"uk":"r","d":-0.00006,"dk":"r"},{"i":101,"u":0.000191,"uk":"r","d":-0.00003,"dk":"r"},{"i":102,"u":0.000096,"uk":"r","d":-0.00002,"dk":"r"},{"i":103,"u":0.00016,"uk":"g","d":-0.00003,"dk":"g"},{"i":104,"u":0.000096,"uk":"r","d":-0.000574,"dk":"g"},{"i":105,"u":0.00016,"uk":"g","d":-0.001021,"dk":"g"},{"i":106,"u":0.000479,"uk":"g","d":-0.001212,"dk":"g"},{"i":107,"u":0.000861,"uk":"g","d":-0.001499,"dk":"g"},{"i":108,"u":0.00118,"uk":"g","d":-0.001372,"dk":"r"},{"i":109,"u":0.001436,"uk":"g","d":-0.000798,"dk":"r"},
{"i":110,"u":0.001404,"uk":"r","d":-0.000351,"dk":"r"},{"i":111,"u":0.001212,"uk":"r","d":-0.000415,"dk":"g"},{"i":112,"u":0.000861,"uk":"r","d":-0.000606,"dk":"g"},{"i":113,"u":0.000383,"uk":"r","d":-0.000734,"dk":"g"},{"i":114,"u":0.000128,"uk":"r","d":-0.000542,"dk":"r"},{"i":115,"u":0.000255,"uk":"g","d":-0.000479,"dk":"r"},{"i":116,"u":0.000351,"uk":"g","d":-0.000287,"dk":"r"},{"i":117,"u":0.000319,"uk":"r","d":-0.000096,"dk":"r"},{"i":118,"u":0.000191,"uk":"r","d":-0.00003,"dk":"r"},{"i":119,"u":0.000096,"uk":"r","d":-0.00002,"dk":"r"},
{"i":120,"u":0.000128,"uk":"g","d":-0.00001,"dk":"r"},{"i":121,"u":0.000191,"uk":"g","d":-0.00003,"dk":"g"},{"i":122,"u":0.000223,"uk":"g","d":-0.00016,"dk":"g"},{"i":123,"u":0.000128,"uk":"r","d":-0.000162,"dk":"g"},{"i":124,"u":0.000064,"uk":"r","d":-0.000096,"dk":"r"},{"i":125,"u":0.000191,"uk":"g","d":-0.00004,"dk":"r"},{"i":126,"u":0.000223,"uk":"g","d":-0.00002,"dk":"r"},{"i":127,"u":0.000096,"uk":"r","d":-0.000766,"dk":"g"},{"i":128,"u":0.000096,"uk":"r","d":-0.001053,"dk":"g"},{"i":129,"u":0.000479,"uk":"g","d":-0.001148,"dk":"g"},
{"i":130,"u":0.000861,"uk":"g","d":-0.001244,"dk":"g"},{"i":131,"u":0.001148,"uk":"g","d":-0.00134,"dk":"g"},{"i":132,"u":0.00118,"uk":"g","d":-0.001818,"dk":"g"},{"i":133,"u":0.00134,"uk":"g","d":-0.002393,"dk":"r"},{"i":134,"u":0.001723,"uk":"g","d":-0.00239,"dk":"r"},{"i":135,"u":0.002201,"uk":"g","d":-0.002393,"dk":"g"},{"i":136,"u":0.002393,"uk":"g","d":-0.00268,"dk":"g"},{"i":137,"u":0.002584,"uk":"g","d":-0.002584,"dk":"r"},{"i":138,"u":0.002775,"uk":"g","d":-0.002201,"dk":"r"},{"i":139,"u":0.002871,"uk":"g","d":-0.001818,"dk":"r"},
{"i":140,"u":0.002775,"uk":"r","d":-0.001627,"dk":"r"},{"i":141,"u":0.002488,"uk":"r"},{"i":142,"u":0.002365,"uk":"r"}
]
},
"vconcat":[
{
 "width":1227,"height":482,
 "layer":[
  {"data":{"name":"candles"},"mark":{"type":"rule","color":"#000000","strokeWidth":1,"clip":true},
   "encoding":{
    "x":{"field":"i","type":"quantitative","title":null,"scale":{"domain":[-0.1875,153.1875],"nice":false,"zero":false},
      "axis":{"values":[0,4,8,12,16,20,24,28,32,36,40,44,48,52,56,60,64,68,72,76,80,84,88,92,96,100,104,108,112,116,120,124,128,132,136,140,144,148,152],"tickCount":60,"grid":true,"labels":false,"ticks":false,"domain":false,"gridOpacity":{"condition":{"test":"datum.value > 0","value":1},"value":0}}},
    "y":{"field":"l","type":"quantitative","title":null,"scale":{"domain":[1.03288,1.06019],"nice":false,"zero":false},
      "axis":{"orient":"right","values":[1.0587,1.05685,1.055,1.05315,1.0513,1.04945,1.0476,1.04575,1.0439,1.04205,1.0402,1.03835,1.0365,1.03465],"tickCount":30,"format":".5f","grid":true,"tickSize":4,"labelPadding":1,"domain":false,"labelOverlap":false,"labelFontSize":9.5,"zindex":0}},
    "y2":{"field":"h"}}},
  {"data":{"name":"candles"},"mark":{"type":"bar","width":4,"stroke":"#000000","strokeWidth":1,"clip":true},
   "encoding":{
    "x":{"field":"i","type":"quantitative","title":null},
    "y":{"field":"o","type":"quantitative","title":null},
    "y2":{"field":"c"},
    "fill":{"condition":{"test":"datum.c >= datum.o","value":"#ffffff"},"value":"#000000"}}},
  {"data":{"values":[{"p":1.05658}]},"mark":{"type":"rule","color":"#e00000","strokeWidth":1},
   "encoding":{"y":{"field":"p","type":"quantitative","title":null}}},
  {"data":{"name":"alligator"},"mark":{"type":"line","color":"#0050dc","strokeWidth":2,"clip":true},
   "encoding":{"x":{"field":"i","type":"quantitative","title":null},"y":{"field":"j","type":"quantitative","title":null}}},
  {"data":{"name":"alligator"},"mark":{"type":"line","color":"#ff0000","strokeWidth":2,"clip":true},
   "encoding":{"x":{"field":"i","type":"quantitative","title":null},"y":{"field":"t","type":"quantitative","title":null}}},
  {"data":{"name":"alligator"},"mark":{"type":"line","color":"#32c832","strokeWidth":2,"clip":true},
   "encoding":{"x":{"field":"i","type":"quantitative","title":null},"y":{"field":"l","type":"quantitative","title":null}}},
  {"data":{"name":"candles"},"transform":[{"filter":"datum.fr === 'u'"}],
   "mark":{"type":"point","shape":"M0,-3.4L1.2,-0.9L0,-1.5L-1.2,-0.9Z","size":64,"filled":true,"color":"#000000","stroke":"#5a6a8a","strokeWidth":0.6,"opacity":1,"clip":true},
   "encoding":{"x":{"field":"i","type":"quantitative","title":null},"y":{"field":"h","type":"quantitative","title":null}}},
  {"data":{"name":"candles"},"transform":[{"filter":"datum.fr === 'd'"}],
   "mark":{"type":"point","shape":"M0,3.4L1.2,0.9L0,1.5L-1.2,0.9Z","size":64,"filled":true,"color":"#000000","stroke":"#5a6a8a","strokeWidth":0.6,"opacity":1,"clip":true},
   "encoding":{"x":{"field":"i","type":"quantitative","title":null},"y":{"field":"l","type":"quantitative","title":null}}},
  {"data":{"values":[{"p":1.05658}]},"mark":{"type":"rect","color":"#e00000"},
   "encoding":{"x":{"datum":153.44},"x2":{"datum":158.2},"y":{"datum":1.05686},"y2":{"datum":1.05622}}},
  {"data":{"values":[{"p":1.05658}]},"mark":{"type":"text","align":"left","baseline":"middle","color":"#ffffff","fontSize":9.5,"dx":3},
   "encoding":{"x":{"datum":153.44},"y":{"field":"p","type":"quantitative","title":null},"text":{"field":"p","type":"quantitative","format":".5f"}}}
 ]
},
{
 "width":1227,"height":103,
 "layer":[
  {"data":{"name":"ao"},"mark":{"type":"bar","width":4},
   "encoding":{
    "x":{"field":"i","type":"quantitative","title":null,"scale":{"domain":[-0.1875,153.1875],"nice":false,"zero":false},
      "axis":{"values":[0,4,8,12,16,20,24,28,32,36,40,44,48,52,56,60,64,68,72,76,80,84,88,92,96,100,104,108,112,116,120,124,128,132,136,140,144,148,152],"tickCount":60,"grid":true,"labels":false,"ticks":false,"domain":false,"gridOpacity":{"condition":{"test":"datum.value > 0","value":1},"value":0}}},
    "y":{"field":"v","type":"quantitative","title":null,"scale":{"domain":[-0.009111,0.007518],"nice":false,"zero":false},
      "axis":{"orient":"right","values":[-0.009111,0,0.007518],"tickCount":10,"format":".6f","labelFlush":true,"labelFlushOffset":0,"labelOverlap":false,"labelFontSize":9,"grid":true,"gridOpacity":{"condition":{"test":"datum.value === 0","value":1},"value":0},"tickSize":4,"labelPadding":1,"domain":false}},
    "y2":{"datum":0},
    "color":{"field":"k","type":"nominal","scale":{"domain":["g","r"],"range":["#008000","#ff0000"]},"legend":null}}},
  {"data":{"values":[{"t":"AO 0.005682"}]},"mark":{"type":"text","align":"left","baseline":"top","dx":5,"dy":5,"fontSize":9.5,"color":"#000000"},
   "encoding":{"x":{"datum":-0.1875},"y":{"datum":0.007518},"text":{"field":"t"}}}
 ]
},
{
 "width":1227,"height":102,
 "layer":[
  {"data":{"name":"ac"},"mark":{"type":"bar","width":4},
   "encoding":{
    "x":{"field":"i","type":"quantitative","title":null,"scale":{"domain":[-0.1875,153.1875],"nice":false,"zero":false},
      "axis":{"values":[0,4,8,12,16,20,24,28,32,36,40,44,48,52,56,60,64,68,72,76,80,84,88,92,96,100,104,108,112,116,120,124,128,132,136,140,144,148,152],"tickCount":60,"grid":true,"labels":false,"ticks":false,"domain":false,"gridOpacity":{"condition":{"test":"datum.value > 0","value":1},"value":0}}},
    "y":{"field":"v","type":"quantitative","title":null,"scale":{"domain":[-0.0026266,0.0034298],"nice":false,"zero":false},
      "axis":{"orient":"right","values":[-0.0026266,0,0.0034298],"tickCount":10,"format":".7f","labelFlush":true,"labelFlushOffset":0,"labelOverlap":false,"labelFontSize":9,"grid":true,"gridOpacity":{"condition":{"test":"datum.value === 0","value":1},"value":0},"tickSize":4,"labelPadding":1,"domain":false}},
    "y2":{"datum":0},
    "color":{"field":"k","type":"nominal","scale":{"domain":["g","r"],"range":["#008000","#ff0000"]},"legend":null}}},
  {"data":{"values":[{"t":"AC -0.0002239"}]},"mark":{"type":"text","align":"left","baseline":"top","dx":5,"dy":5,"fontSize":9.5,"color":"#000000"},
   "encoding":{"x":{"datum":-0.1875},"y":{"datum":0.0034298},"text":{"field":"t"}}}
 ]
},
{
 "width":1227,"height":84,
 "layer":[
  {"data":{"name":"gator"},"mark":{"type":"bar","width":4},
   "encoding":{
    "x":{"field":"i","type":"quantitative","title":null,"scale":{"domain":[-0.1875,153.1875],"nice":false,"zero":false},
      "axis":{"values":[0,4,8,12,16,20,24,28,32,36,40,44,48,52,56,60,64,68,72,76,80,84,88,92,96,100,104,108,112,116,120,124,128,132,136,140,144,148,152],"tickCount":60,"grid":true,"domain":false,
        "gridOpacity":{"condition":{"test":"datum.value > 0","value":1},"value":0},
        "tickOpacity":{"condition":{"test":"datum.value % 8 === 0 && datum.value <= 136","value":1},"value":0},
        "labelExpr":"datum.value % 8 === 0 && datum.value <= 136 ? ['20 Nov 2024','20 Nov 14:00','20 Nov 22:00','21 Nov 06:00','21 Nov 14:00','21 Nov 22:00','22 Nov 06:00','22 Nov 14:00','22 Nov 22:00','25 Nov 06:00','25 Nov 14:00','25 Nov 22:00','26 Nov 06:00','26 Nov 14:00','26 Nov 22:00','27 Nov 06:00','27 Nov 14:00','27 Nov 22:00'][datum.value / 8] : ''",
        "labelAlign":"left","labelBaseline":"top","labelPadding":2,"labelFlush":false,"labelOverlap":false,"labelBound":false,"labelFontSize":9.5,"tickSize":4}},
    "y":{"field":"u","type":"quantitative","title":null,"scale":{"domain":[-0.003894,0.004207],"nice":false,"zero":false},
      "axis":{"orient":"right","values":[-0.003894,0,0.004207],"tickCount":10,"format":".6f","labelFlush":true,"labelFlushOffset":0,"labelOverlap":false,"labelFontSize":9,"grid":true,"gridOpacity":{"condition":{"test":"datum.value === 0","value":1},"value":0},"tickSize":4,"labelPadding":1,"domain":false}},
    "y2":{"datum":0},
    "color":{"field":"uk","type":"nominal","scale":{"domain":["g","r"],"range":["#008000","#ff0000"]},"legend":null}}},
  {"data":{"name":"gator"},"mark":{"type":"bar","width":4},
   "encoding":{
    "x":{"field":"i","type":"quantitative","title":null},
    "y":{"field":"d","type":"quantitative","title":null},
    "y2":{"datum":0},
    "color":{"field":"dk","type":"nominal","legend":null}}},
  {"data":{"values":[{"t":"Gator(13,8,5) 0.002365 0.000000"}]},"mark":{"type":"text","align":"left","baseline":"top","dx":5,"dy":5,"fontSize":9.5,"color":"#000000"},
   "encoding":{"x":{"datum":-0.1875},"y":{"datum":0.004207},"text":{"field":"t"}}}
 ]
}
]
}
